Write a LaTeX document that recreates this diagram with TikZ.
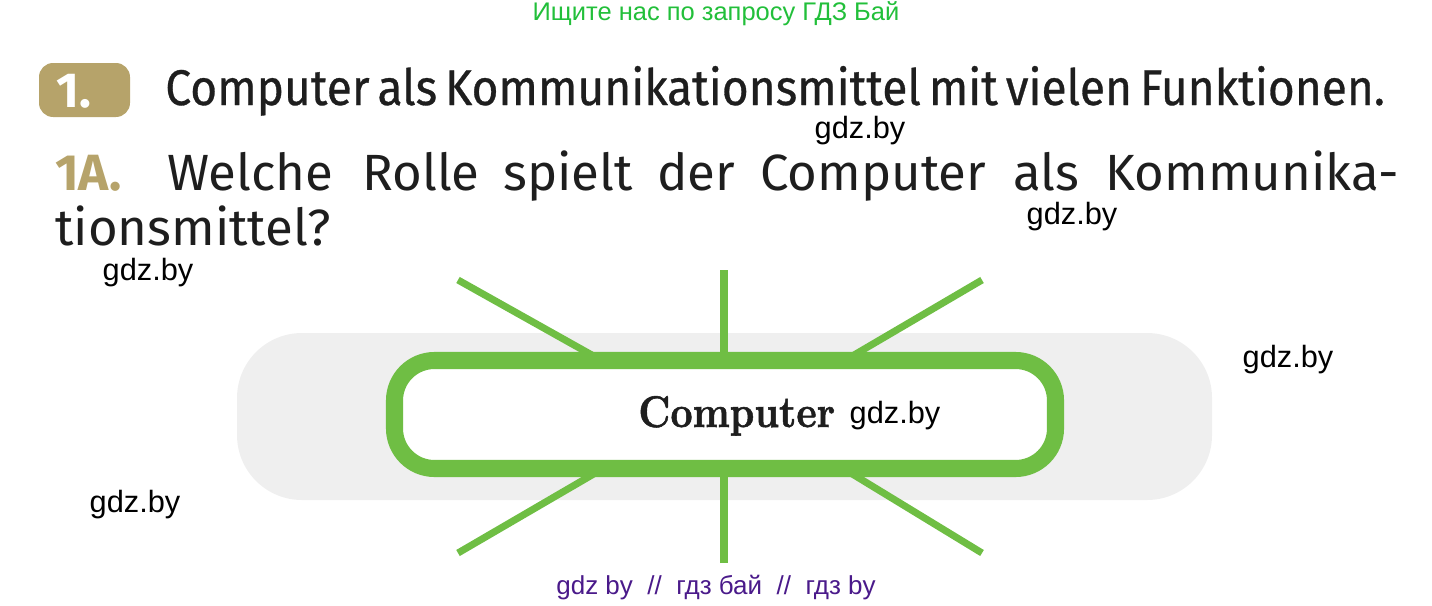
\documentclass[tikz,border=0pt]{standalone}
\usepackage{fontspec}
\newfontfamily\webfont{Liberation Sans}
\newfontfamily\bookfont{Fira Sans}
\newfontfamily\headfont[FakeStretch=0.92, FakeBold=0.6, WordSpace=0.65]{Fira Sans}
\newfontfamily\boxfont[Extension=.otf, FakeBold=1.2]{lmroman10-bold}
\definecolor{hintgreen}{HTML}{22BF3A}
\definecolor{raygreen}{HTML}{6FBE44}
\definecolor{padgray}{HTML}{EFEFEF}
\definecolor{badgetan}{HTML}{B6A36A}
\definecolor{markpurple}{HTML}{4A1A8A}
\definecolor{inkblack}{HTML}{1E1E1E}
\tikzset{
  wmark/.style={font=\webfont\fontsize{17.5}{20}\selectfont, inner sep=0pt},
  ray/.style={raygreen, line width=4pt},
  qword/.style={font=\bookfont\fontsize{29}{34}\selectfont, text=inkblack, inner sep=0pt, anchor=base west}
}
\begin{document}
\begin{tikzpicture}[x=0.02cm, y=-0.02cm]
 \useasboundingbox (0,0) rectangle (1432,605);

 % header lines
 \node[font=\webfont\fontsize{14.5}{16}\selectfont, text=hintgreen, inner sep=0pt] (hint) at (716,14) {Ищите нас по запросу ГДЗ Бай};
 \fill[badgetan, rounded corners=8pt] (39,63) rectangle (130,117);
 \node[font=\bookfont\bfseries\fontsize{28}{30}\selectfont, text=white, inner sep=0pt, anchor=base west] (num) at (56,107) {1.};
 \node[font=\headfont\fontsize{28.5}{32}\selectfont, text=inkblack, inner sep=0pt, anchor=base west] (title) at (165,105) {Computer als Kommunikationsmittel mit vielen Funktionen.};

 \node[qword, text=badgetan] (qnum) at (55,190) {\bfseries 1A.};
 \node[qword] (w1) at (167,190) {Welche};
 \node[qword] (w2) at (362,190) {Rolle};
 \node[qword] (w3) at (503,190) {spielt};
 \node[qword] (w4) at (657,190) {der};
 \node[qword] (w5) at (760,190) {Computer};
 \node[qword] (w6) at (1013,190) {als};
 \node[qword] (w7) at (1105,190) {Kommunika-};
 \node[qword] (w8) at (55,245) {tionsmittel?};

 % scheme
 \fill[padgray, rounded corners=1.3cm] (237,333) rectangle (1212,500);
 \draw[ray] (724,270) -- (724,414);
 \draw[ray] (724,563) -- (724,414);
 \draw[ray] (458,280) -- (640,382);
 \draw[ray] (982,280) -- (808,382);
 \draw[ray] (458,553) -- (640,447);
 \draw[ray] (982,553) -- (808,447);
 \draw[raygreen, fill=white, line width=9.7pt, rounded corners=0.8cm] (394.5,360.5) rectangle (1055.5,468.5);
 \node[font=\boxfont\fontsize{22}{24}\selectfont, text=inkblack, inner sep=0pt, anchor=base west] (comp) at (638,427) {\scalebox{1}[1.15]{Computer}};

 % watermarks
 \node[wmark] (g1) at (860,131) {gdz.by};
 \node[wmark] (g2) at (1072,217) {gdz.by};
 \node[wmark] (g3) at (148,273) {gdz.by};
 \node[wmark] (g4) at (1288,360) {gdz.by};
 \node[wmark] (g5) at (895,416) {gdz.by};
 \node[wmark] (g6) at (135,505) {gdz.by};
 \node[font=\webfont\fontsize{14.8}{16}\selectfont, text=markpurple, inner sep=0pt] (foot) at (716,588) {gdz by\ \ //\ \ гдз бай\ \ //\ \ гдз by};
\end{tikzpicture}
\end{document}
